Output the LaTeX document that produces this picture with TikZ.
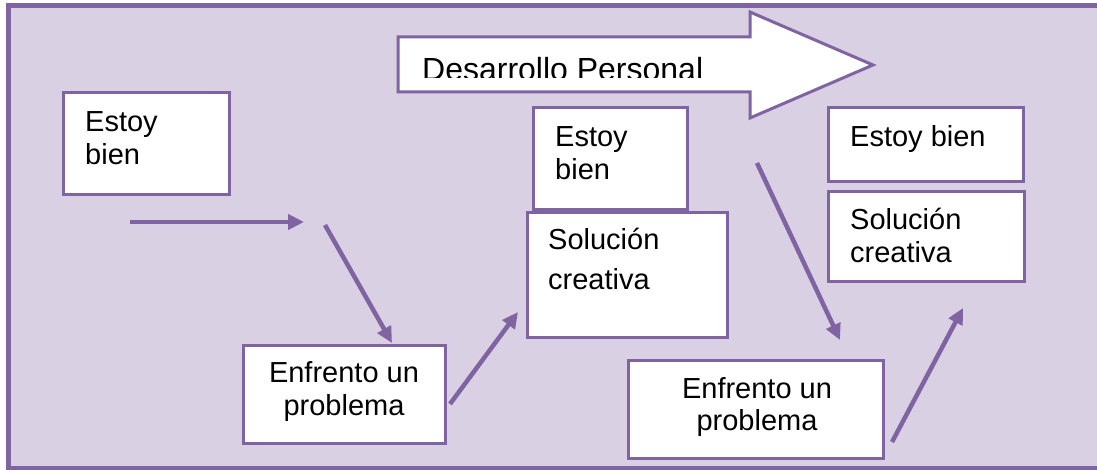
\documentclass[tikz,border=0pt]{standalone}
\usepackage{fontspec}
\setmainfont{Liberation Sans}
\usetikzlibrary{arrows.meta}
\definecolor{frame}{RGB}{128,100,162}
\definecolor{bgfill}{RGB}{217,208,228}
\tikzset{
  box/.style={draw=frame, line width=3pt, fill=white, inner sep=0pt},
  lbl/.style={inner sep=0pt, font=\fontsize{29}{33}\selectfont, text=black},
  conn/.style={draw=frame, line width=4.5pt, -{Triangle[length=16pt,width=15pt]}},
}
\begin{document}
\begin{tikzpicture}[x=1pt,y=-1pt]
\useasboundingbox (0,0) rectangle (1097,470);
% outer frame
\draw[draw=frame, fill=bgfill, line width=5pt] (8,6) rectangle (1110,468);
% big arrow
\draw[draw=frame, line width=3pt, fill=white, line join=miter]
  (398,37) -- (750,37) -- (750,12) -- (873,65) -- (750,118) -- (750,92) -- (398,92) -- cycle;
\begin{scope}
  \clip (400,39) rectangle (748,78);
  \node[lbl, font=\fontsize{32}{36}\selectfont, anchor=base west] (dp) at (422,81) {Desarrollo Personal};
\end{scope}
% boxes
\node[box, minimum width=166pt, minimum height=102pt] (b1) at (146,144) {};
\node[lbl, anchor=base west] (t1a) at (85,132) {Estoy};
\node[lbl, anchor=base west] (t1b) at (85,165) {bien};

\node[box, minimum width=202pt, minimum height=98pt] (p1) at (344,394) {};
\node[lbl, anchor=base] (t2a) at (344,382) {Enfrento un};
\node[lbl, anchor=base] (t2b) at (344,415) {problema};

\node[box, minimum width=154pt, minimum height=102pt] (b2) at (610,159) {};
\node[lbl, anchor=base west] (t3a) at (555,147) {Estoy};
\node[lbl, anchor=base west] (t3b) at (555,180) {bien};

\node[box, minimum width=200pt, minimum height=124pt] (s2) at (627,275) {};
\node[lbl, anchor=base west] (t4a) at (548,250) {Solución};
\node[lbl, anchor=base west] (t4b) at (548,290) {creativa};

\node[box, minimum width=255pt, minimum height=98pt] (p2) at (755.5,409) {};
\node[lbl, anchor=base] (t5a) at (757,398) {Enfrento un};
\node[lbl, anchor=base] (t5b) at (757,430) {problema};

\node[box, minimum width=195pt, minimum height=74pt] (b3) at (925.5,145) {};
\node[lbl, anchor=base west] (t6a) at (850,147) {Estoy bien};

\node[box, minimum width=196pt, minimum height=89pt] (s3) at (926,236.5) {};
\node[lbl, anchor=base west] (t7a) at (850,230) {Solución};
\node[lbl, anchor=base west] (t7b) at (850,262) {creativa};

% connector end points
\coordinate (a1s) at (130,222);
\coordinate (a1e) at (304,222);
\coordinate (a2s) at (325,225);
\coordinate (a2e) at (392,343);
\coordinate (a3s) at (450,404);
\coordinate (a3e) at (518,312);
\coordinate (a4s) at (757,163);
\coordinate (a4e) at (840,340);
\coordinate (a5s) at (892,442);
\coordinate (a5e) at (963,308);

\draw[conn] (a1s) -- (a1e);
\draw[conn] (a2s) -- (a2e);
\draw[conn] (a3s) -- (a3e);
\draw[conn] (a4s) -- (a4e);
\draw[conn] (a5s) -- (a5e);
\end{tikzpicture}
\end{document}
